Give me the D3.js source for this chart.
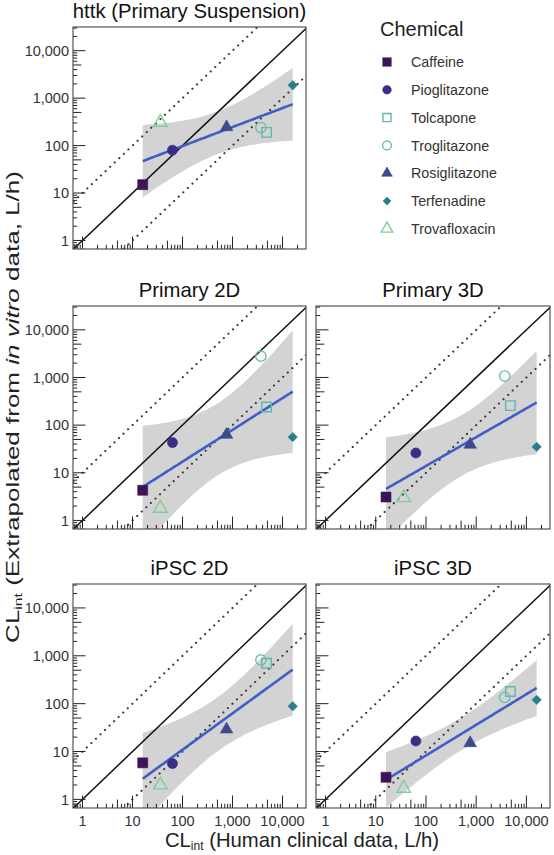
<!DOCTYPE html>
<html><head><meta charset="utf-8">
<script src="https://cdn.jsdelivr.net/npm/d3@7"></script>
<style>body{margin:0;background:#fff}</style>
</head><body><svg id="c" width="554" height="855" xmlns="http://www.w3.org/2000/svg"></svg>
<script>
// ---------- data ----------
const chemicals = ["Caffeine","Pioglitazone","Tolcapone","Troglitazone","Rosiglitazone","Terfenadine","Trovafloxacin"];
const shapes = ["square","circle","squareOpen","circleOpen","triangle","diamond","triangleOpen"];
const colors = ["#3d1459","#3b2c87","#5fb8ae","#6cc0a8","#3e4a8c","#2a7d8c","#7ccf98"];
const clinical = [16, 63, 4800, 3700, 760, 16000, 36];
const panelTitles = ["httk (Primary Suspension)","Primary 2D","Primary 3D","iPSC 2D","iPSC 3D"];
const httk      = [15, 80, 190, 240, 245, 1870, 310];
const primary2D = [4.3, 43, 240, 2800, 63, 56, 1.8];
const primary3D = [3.1, 26, 257, 1070, 39, 35, 3.0];
const ipsc2D    = [5.8, 5.6, 700, 820, 29, 88, 2.0];
const ipsc3D    = [2.9, 16.6, 180, 135, 15, 120, 1.7];
const tickValues = [1, 10, 100, 1000, 10000];
const tQuant = {1:12.706,2:4.303,3:3.182,4:2.776,5:2.571,6:2.447,7:2.365,8:2.306};

// ---------- layout ----------
const colX = [[73,306],[316,550]];
const rowY = [[27,249],[306,529],[584,808]];
const panels = [
  {title: panelTitles[0], vals: httk,      col:0, row:0, ylab:true,  xlab:false},
  {title: panelTitles[1], vals: primary2D, col:0, row:1, ylab:true,  xlab:false},
  {title: panelTitles[2], vals: primary3D, col:1, row:1, ylab:false, xlab:false},
  {title: panelTitles[3], vals: ipsc2D,    col:0, row:2, ylab:true,  xlab:true},
  {title: panelTitles[4], vals: ipsc3D,    col:1, row:2, ylab:false, xlab:true}
];
const xDomain = [Math.pow(10,-0.19), Math.pow(10,4.47)];
const yDomain = [Math.pow(10,-0.18), Math.pow(10,4.5)];
const fmt = d3.format(",");
const FONT = "Liberation Sans, Arial, Helvetica, sans-serif";

const svg = d3.select("#c").style("font-family", FONT);

function symbolPath(shape, k){
  k = k || 1;
  let type, size, rot = 0;
  if (shape.startsWith("square")) { type = d3.symbolSquare; size = (shape==="square"?100:90)*k*k; }
  else if (shape.startsWith("circle")) { type = d3.symbolCircle; size = (shape==="circle"?80:85)*k*k; }
  else if (shape.startsWith("triangle")) { type = d3.symbolTriangle; size = (shape==="triangle"?68:80)*k*k; }
  else { type = d3.symbolSquare; size = 44*k*k; rot = 45; }
  return {d: d3.symbol().type(type).size(size)(), rot};
}
function drawSymbol(g, shape, color, x, y, k){
  const s = symbolPath(shape, k);
  const open = shape.endsWith("Open");
  g.append("path").attr("d", s.d)
    .attr("transform", `translate(${x},${y}) rotate(${s.rot})`)
    .attr("fill", open ? "none" : color)
    .attr("stroke", color)
    .attr("stroke-width", open ? 1.4 : 0.6);
}

panels.forEach((p, pi) => {
  const [x0,x1] = colX[p.col], [y0,y1] = rowY[p.row];
  const x = d3.scaleLog().domain(xDomain).range([x0,x1]);
  const y = d3.scaleLog().domain(yDomain).range([y1,y0]);
  const g = svg.append("g");
  const cid = "clip"+pi;
  svg.append("clipPath").attr("id", cid).append("rect")
    .attr("x", x0).attr("y", y0).attr("width", x1-x0).attr("height", y1-y0);
  const inner = g.append("g").attr("clip-path", `url(#${cid})`);

  // linear model in log-log space
  const pts = clinical.map((c,i)=>({i, lx: Math.log10(c), ly: Math.log10(p.vals[i])}));
  const n = pts.length;
  const mx = d3.mean(pts, d=>d.lx), my = d3.mean(pts, d=>d.ly);
  const sxx = d3.sum(pts, d=>(d.lx-mx)**2);
  const sxy = d3.sum(pts, d=>(d.lx-mx)*(d.ly-my));
  const b = sxy/sxx, a = my - b*mx;
  const sse = d3.sum(pts, d=>(d.ly-(a+b*d.lx))**2);
  const s = Math.sqrt(sse/(n-2));
  const tq = tQuant[n-2];
  const lmin = d3.min(pts, d=>d.lx), lmax = d3.max(pts, d=>d.lx);
  const grid = d3.range(0, 81).map(j => lmin + (lmax-lmin)*j/80);
  const band = grid.map(lx => {
    const fit = a + b*lx;
    const se = s*Math.sqrt(1/n + (lx-mx)**2/sxx);
    return {lx, fit, lo: fit - tq*se, hi: fit + tq*se};
  });
  inner.append("path")
    .attr("d", d3.area().x(d=>x(10**d.lx)).y0(d=>y(10**d.lo)).y1(d=>y(10**d.hi))(band))
    .attr("fill", "#d3d3d3");

  // reference lines y = x, y = 10x, y = x/10
  const lx = [xDomain[0]/100, xDomain[1]*100];
  inner.append("line").attr("x1", x(lx[0])).attr("y1", y(lx[0])).attr("x2", x(lx[1])).attr("y2", y(lx[1]))
    .attr("stroke", "#111").attr("stroke-width", 1.5);
  [10, 0.1].forEach(f => {
    inner.append("line").attr("x1", x(lx[0])).attr("y1", y(lx[0]*f)).attr("x2", x(lx[1])).attr("y2", y(lx[1]*f))
      .attr("stroke", "#3a3a3a").attr("stroke-width", 2.1)
      .attr("stroke-linecap", "round").attr("stroke-dasharray", "0.1,6.2");
  });

  // regression line
  inner.append("path")
    .attr("d", d3.line().x(d=>x(10**d.lx)).y(d=>y(10**d.fit))(band))
    .attr("fill", "none").attr("stroke", "#3f5fc6").attr("stroke-width", 2.6);

  // points
  pts.forEach(d => drawSymbol(inner, shapes[d.i], colors[d.i], x(10**d.lx), y(10**d.ly), 1));

  // log ticks (inside, left and bottom)
  const tg = g.append("g").attr("stroke", "#222").attr("stroke-width", 1);
  for (let k = -1; k <= 5; k++) {
    for (let m = 1; m <= 9; m++) {
      const v = m*Math.pow(10,k);
      const len = m===1 ? 12.5 : (m===5 ? 8.4 : 4.2);
      if (v >= xDomain[0] && v <= xDomain[1])
        tg.append("line").attr("x1", x(v)).attr("x2", x(v)).attr("y1", y1).attr("y2", y1-len);
      if (v >= yDomain[0] && v <= yDomain[1])
        tg.append("line").attr("y1", y(v)).attr("y2", y(v)).attr("x1", x0).attr("x2", x0+len);
    }
  }

  // border
  g.append("rect").attr("x", x0).attr("y", y0).attr("width", x1-x0).attr("height", y1-y0)
    .attr("fill", "none").attr("stroke", "#444").attr("stroke-width", 1.1);

  // tick labels
  if (p.ylab) {
    tickValues.forEach(v => g.append("text").attr("x", x0-4).attr("y", y(v)).attr("dy", "0.36em")
      .attr("text-anchor", "end").attr("font-size", 14.5).attr("fill", "#333").text(fmt(v)));
  }
  if (p.xlab) {
    tickValues.forEach(v => g.append("text").attr("x", x(v)).attr("y", 826)
      .attr("text-anchor", "middle").attr("font-size", 14.5).attr("fill", "#333").text(fmt(v)));
  }
  // title
  g.append("text").attr("x", (x0+x1)/2).attr("y", y0-9).attr("text-anchor", "middle")
    .attr("font-size", 20.3).attr("fill", "#111").text(p.title);
});

// axis titles
const xt = svg.append("text").attr("x", 302).attr("y", 847).attr("text-anchor", "middle")
  .attr("font-size", 20.3).attr("fill", "#222");
xt.append("tspan").text("CL");
xt.append("tspan").attr("font-size", 12).attr("dy", 3).text("int");
xt.append("tspan").attr("dy", -3).text(" (Human clinical data, L/h)");

const yg = svg.append("g");
const yt = yg.append("text").attr("x", 0).attr("y", 0).attr("text-anchor", "middle")
  .attr("font-size", 19).attr("fill", "#222");
yt.append("tspan").text("CL");
yt.append("tspan").attr("font-size", 11.5).attr("dy", 3).text("int");
yt.append("tspan").attr("dy", -3).text(" (Extrapolated from ");
yt.append("tspan").attr("font-style", "italic").text("in vitro");
yt.append("tspan").text(" data, L/h)");
const natural = yt.node().getBBox().width;
const kx = 472 / natural;
yg.attr("transform", `translate(18.5,407) rotate(-90) scale(${kx},1)`);

// legend
const lg = svg.append("g");
lg.append("text").attr("x", 380).attr("y", 36).attr("font-size", 20).attr("fill", "#222").text("Chemical");
chemicals.forEach((c, i) => {
  const cy = 62 + i*27.8;
  drawSymbol(lg, shapes[i], colors[i], 387, cy, 0.85);
  lg.append("text").attr("x", 411).attr("y", cy).attr("dy", "0.36em")
    .attr("font-size", 14.3).attr("fill", "#333").text(c);
});
</script>
</body></html>
